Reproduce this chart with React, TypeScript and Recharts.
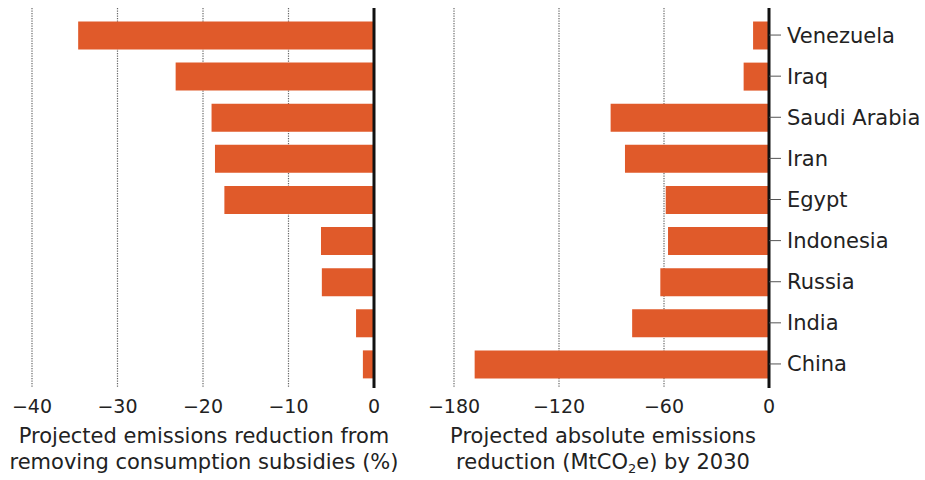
import React from "react";
import { BarChart, Bar, XAxis, YAxis, CartesianGrid, ReferenceLine } from "recharts";

const countries = ["Venezuela", "Iraq", "Saudi Arabia", "Iran", "Egypt", "Indonesia", "Russia", "India", "China"];
const pctReduction = [-34.6, -23.2, -19.0, -18.6, -17.5, -6.2, -6.1, -2.1, -1.3];
const absReduction = [-9.1, -14.5, -90.5, -82.3, -59.0, -57.7, -62.1, -78.2, -168.2];
const pctTicks = [-40, -30, -20, -10, 0];
const absTicks = [-180, -120, -60, 0];

const leftData = countries.map((c, i) => ({ country: c, value: pctReduction[i] }));
const rightData = countries.map((c, i) => ({ country: c, value: absReduction[i] }));

const FONT = "'DejaVu Sans', sans-serif";
const BAR = "#E05A2A";
const fmt = (v: number) => (v < 0 ? "\u2212" + Math.abs(v) : String(v));

const titleStyle: React.CSSProperties = {
  position: "absolute",
  fontFamily: FONT,
  fontSize: 21,
  lineHeight: "26px",
  color: "#222",
  textAlign: "center",
  whiteSpace: "nowrap",
};

export default function App() {
  return (
    <div style={{ position: "absolute", left: 0, top: 0, width: 925, height: 480, background: "#fff", overflow: "hidden" }}>
      <div style={{ position: "absolute", left: 0, top: 0 }}>
        <BarChart width={400} height={480} data={leftData} layout="vertical"
          margin={{ top: 8, right: 26, left: 32, bottom: 0 }}>
          <CartesianGrid horizontal={false} vertical stroke="#666" strokeWidth={1.2} strokeDasharray="1.2 1.3" />
          <XAxis type="number" dataKey="value" domain={[-40, 0]} ticks={pctTicks} tickFormatter={fmt}
            axisLine={false} tickLine={false} height={92} tickMargin={6}
            tick={{ fill: "#222", fontSize: 19, fontFamily: FONT }} interval={0} />
          <YAxis type="category" dataKey="country" hide padding={{ top: 6.5, bottom: 3.5 }} />
          <Bar dataKey="value" fill={BAR} barSize={28} isAnimationActive={false} />
          <ReferenceLine x={0} stroke="#111" strokeWidth={3} />
        </BarChart>
      </div>
      <div style={{ position: "absolute", left: 420, top: 0 }}>
        <BarChart width={505} height={480} data={rightData} layout="vertical"
          margin={{ top: 8, right: 6, left: 34, bottom: 0 }}>
          <CartesianGrid horizontal={false} vertical stroke="#666" strokeWidth={1.2} strokeDasharray="1.2 1.3" />
          <XAxis type="number" dataKey="value" domain={[-180, 0]} ticks={absTicks} tickFormatter={fmt}
            axisLine={false} tickLine={false} height={92} tickMargin={6}
            tick={{ fill: "#222", fontSize: 19, fontFamily: FONT }} interval={0} />
          <YAxis type="category" dataKey="country" orientation="right" width={150}
            padding={{ top: 6.5, bottom: 3.5 }} axisLine={false}
            tickLine={{ stroke: "#555", strokeWidth: 1 }} tickSize={12} tickMargin={6}
            tick={{ fill: "#222", fontSize: 21, fontFamily: FONT, textAnchor: "start" }} interval={0} />
          <Bar dataKey="value" fill={BAR} barSize={28} isAnimationActive={false} />
          <ReferenceLine x={0} stroke="#111" strokeWidth={3} />
        </BarChart>
      </div>
      <div style={{ ...titleStyle, left: 4, width: 400, top: 423 }}>
        Projected emissions reduction from<br />removing consumption subsidies (%)
      </div>
      <div style={{ ...titleStyle, left: 403, width: 400, top: 423 }}>
        Projected absolute emissions<br />reduction (MtCO<sub style={{ fontSize: 13, lineHeight: 0, verticalAlign: "-4px" }}>2</sub>e) by 2030
      </div>
    </div>
  );
}
